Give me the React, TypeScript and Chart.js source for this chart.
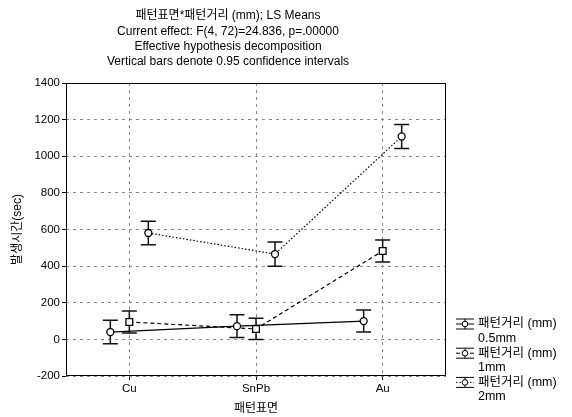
import React, { useEffect, useRef } from "react";
import { Chart, registerables } from "chart.js";

Chart.register(...registerables);

const categories = ["Cu", "SnPb", "Au"];
const seriesLabels = ["0.5mm", "1mm", "2mm"];
const legendPrefix = "패턴거리 (mm)";
const mean05 = [40, 72, 100];
const ci05 = [64, 62, 60];
const mean1 = [95, 57, 483];
const ci1 = [60, 58, 60];
const mean2 = [581, 466, 1108];
const ci2 = [64, 66, 66];
const offsets = [-0.15, 0, 0.15];
const titleLines = [
  "패턴표면*패턴거리 (mm); LS Means",
  "Current effect: F(4, 72)=24.836, p=.00000",
  "Effective hypothesis decomposition",
  "Vertical bars denote 0.95 confidence intervals",
];
const xTitle = "패턴표면";
const yTitle = "발생시간(sec)";

const FONT = "Arial, 'Liberation Sans', 'Noto Sans CJK KR', sans-serif";
const means = [mean05, mean1, mean2];
const cis = [ci05, ci1, ci2];
const dashes = [[], [4, 3], [1.5, 2]];
const pointStyles = ["circle", "rect", "circle"];
const radii = [3.5, 4.8, 3.5];

const decor = {
  id: "decor",
  beforeDatasetsDraw(chart: any) {
    const ctx = chart.ctx;
    const xs = chart.scales.x;
    const ys = chart.scales.y;
    ctx.save();
    ctx.strokeStyle = "#111";
    ctx.lineWidth = 1.5;
    means.forEach((m, i) => {
      m.forEach((v, j) => {
        const x = xs.getPixelForValue(j + offsets[i]);
        const yt = ys.getPixelForValue(v + cis[i][j]);
        const yb = ys.getPixelForValue(v - cis[i][j]);
        ctx.beginPath();
        ctx.moveTo(x, yt);
        ctx.lineTo(x, yb);
        ctx.moveTo(x - 7.5, yt);
        ctx.lineTo(x + 7.5, yt);
        ctx.moveTo(x - 7.5, yb);
        ctx.lineTo(x + 7.5, yb);
        ctx.stroke();
      });
    });
    ctx.restore();
  },
  afterDraw(chart: any) {
    const ctx = chart.ctx;
    const a = chart.chartArea;
    ctx.save();
    ctx.strokeStyle = "#000";
    ctx.lineWidth = 1;
    ctx.setLineDash([]);
    ctx.strokeRect(a.left + 0.5, a.top + 0.5, a.right - a.left - 1, a.bottom - a.top - 1);
    ctx.fillStyle = "#000";
    ctx.font = `12px ${FONT}`;
    ctx.textAlign = "center";
    ctx.textBaseline = "middle";
    titleLines.forEach((t, i) => ctx.fillText(t, 228, 16 + i * 15.3));
    ctx.fillText(xTitle, (a.left + a.right) / 2, 409);
    ctx.save();
    ctx.translate(18, (a.top + a.bottom) / 2);
    ctx.rotate(-Math.PI / 2);
    ctx.fillText(yTitle, 0, 0);
    ctx.restore();
    // legend
    ctx.textAlign = "left";
    ctx.font = `12.5px ${FONT}`;
    seriesLabels.forEach((lab, i) => {
      const y = 324 + i * 29.2;
      const cx = 465;
      ctx.strokeStyle = "#000";
      ctx.lineWidth = 1;
      ctx.setLineDash([]);
      ctx.beginPath();
      ctx.moveTo(cx - 9, y - 5);
      ctx.lineTo(cx + 9, y - 5);
      ctx.moveTo(cx - 9, y + 5);
      ctx.lineTo(cx + 9, y + 5);
      ctx.moveTo(cx, y - 5);
      ctx.lineTo(cx, y + 5);
      ctx.stroke();
      ctx.setLineDash(dashes[i]);
      ctx.beginPath();
      ctx.moveTo(cx - 9, y);
      ctx.lineTo(cx + 9, y);
      ctx.stroke();
      ctx.setLineDash([]);
      ctx.fillStyle = "#fff";
      ctx.beginPath();
      ctx.arc(cx, y, 2.8, 0, Math.PI * 2);
      ctx.fill();
      ctx.stroke();
      ctx.fillStyle = "#000";
      ctx.fillText(legendPrefix, 478, y);
      ctx.fillText(lab, 478, y + 14.6);
    });
    ctx.restore();
  },
};

export default function App() {
  const ref = useRef<HTMLCanvasElement>(null);
  useEffect(() => {
    if (!ref.current) return;
    const datasets = means.map((m, i) => ({
      label: `${legendPrefix} ${seriesLabels[i]}`,
      data: m.map((v, j) => ({ x: j + offsets[i], y: v })),
      showLine: true,
      borderColor: "#000",
      borderWidth: 1.2,
      borderDash: dashes[i],
      pointStyle: pointStyles[i],
      pointRadius: radii[i],
      pointBackgroundColor: "#fff",
      pointBorderColor: "#000",
      pointBorderWidth: 1.3,
      tension: 0,
    }));
    const chart = new Chart(ref.current, {
      type: "scatter",
      data: { datasets } as any,
      plugins: [decor],
      options: {
        responsive: false,
        animation: false,
        devicePixelRatio: 1,
        layout: { padding: { top: 83, right: 126, left: 0, bottom: 0 } },
        plugins: { legend: { display: false }, tooltip: { enabled: false }, title: { display: false } },
        scales: {
          x: {
            type: "linear",
            min: -0.5,
            max: 2.5,
            afterBuildTicks: (s: any) => {
              s.ticks = categories.map((_, i) => ({ value: i }));
            },
            afterFit: (s: any) => {
              s.height = 41;
            },
            ticks: {
              callback: (v: any) => categories[v as number] ?? "",
              color: "#000",
              font: { family: FONT, size: 11.5 },
              padding: 2,
              maxRotation: 0,
            },
            grid: {
              color: "#888",
              tickColor: "#000",
              tickLength: 4,
              tickBorderDash: [],
            } as any,
            border: { display: false, dash: [3, 4] } as any,
          },
          y: {
            min: -200,
            max: 1400,
            afterFit: (s: any) => {
              s.width = 66;
            },
            ticks: {
              stepSize: 200,
              callback: (v: any) => String(v),
              color: "#000",
              font: { family: FONT, size: 11.5 },
              padding: 2,
            },
            grid: {
              color: "#888",
              tickColor: "#000",
              tickLength: 4,
              tickBorderDash: [],
            } as any,
            border: { display: false, dash: [3, 4] } as any,
          },
        },
      },
    } as any);
    return () => chart.destroy();
  }, []);
  return (
    <div style={{ position: "absolute", left: 0, top: 0, width: 572, height: 417, background: "#fff" }}>
      <canvas ref={ref} width={572} height={417} />
    </div>
  );
}
